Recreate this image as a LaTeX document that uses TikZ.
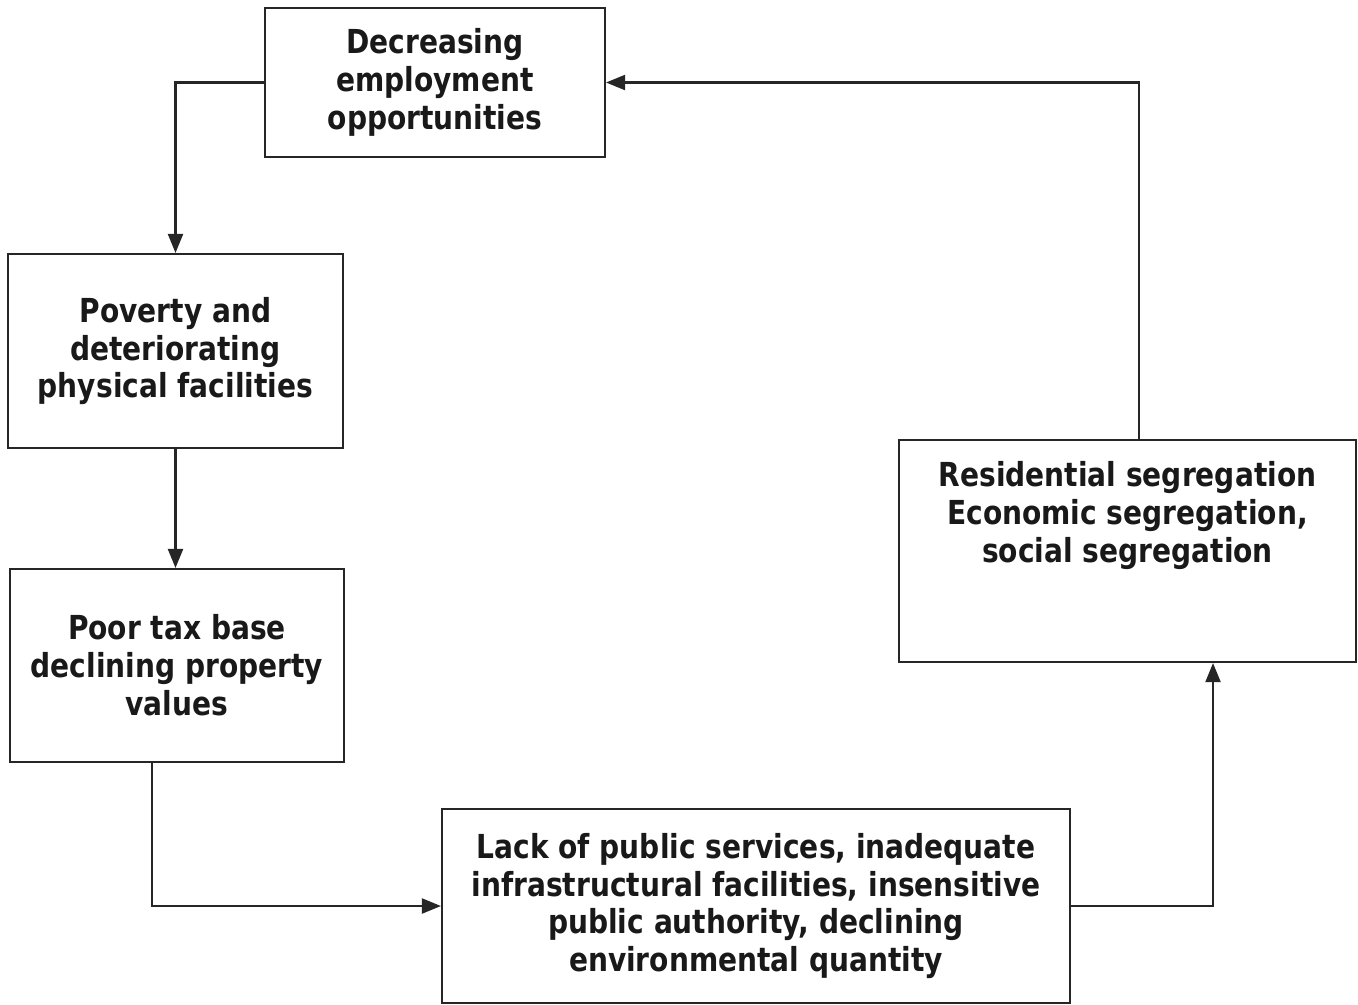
\documentclass[tikz,border=0pt]{standalone}
\usepackage{fontspec}
\setmainfont{DejaVu Sans}[FakeStretch=0.85]
\usetikzlibrary{positioning,arrows.meta}

\tikzset{
  box/.style={draw=black!85, line width=0.6pt, align=center, text=black!90,
    font=\bfseries\fontsize{9.4}{10.8}\selectfont},
  arr/.style={draw=black!85, line width=0.6pt, -{Triangle[length=0.19cm,width=0.15cm]}}
}

\begin{document}
\begin{tikzpicture}

\useasboundingbox (0,0) rectangle (13.58,-10.04);

\node[box, minimum width=3.40cm, minimum height=1.49cm] (dec) at (4.35,-0.825)
  {Decreasing\\employment\\opportunities};
\node[box, minimum width=3.35cm, minimum height=1.94cm] (pov) at (1.755,-3.51)
  {Poverty and\\deteriorating\\physical facilities};
\node[box, minimum width=3.34cm, minimum height=1.93cm] (tax) at (1.77,-6.655)
  {Poor tax base\\declining property\\values};
\node[box, minimum width=6.28cm, minimum height=1.94cm] (lack) at (7.56,-9.06)
  {Lack of public services, inadequate\\infrastructural facilities, insensitive\\public authority, declining\\environmental quantity};
\node[box, minimum width=4.57cm, minimum height=2.22cm,
  label={[box, draw=none, anchor=north, yshift=-0.1cm]north:Residential segregation\\Economic segregation,\\social segregation}] (resid) at (11.275,-5.51) {};

\draw[arr] (dec.west) -| (pov.north);
\draw[arr] (pov.south) -- (pov.south |- tax.north);
\draw[arr] ([xshift=-0.25cm]tax.south) |- (lack.west);
\draw[arr] (lack.east) -| ([xshift=0.855cm]resid.south);
\draw[arr] ([xshift=0.115cm]resid.north) |- (dec.east);

\end{tikzpicture}
\end{document}
